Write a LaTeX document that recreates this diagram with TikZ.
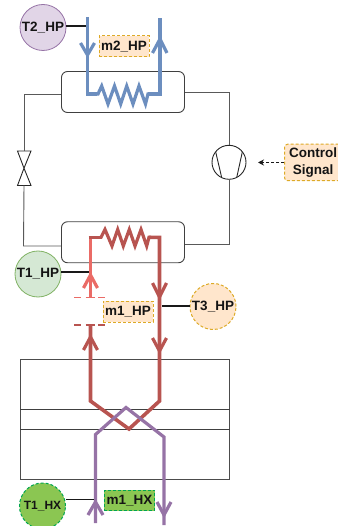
\documentclass[tikz,border=0pt]{standalone}
\usepackage{fontspec}
\setmainfont{Liberation Sans}
\usetikzlibrary{arrows.meta}
\definecolor{blueL}{HTML}{6C8EBF}
\definecolor{redD}{HTML}{B85450}
\definecolor{redL}{HTML}{EA6B66}
\definecolor{purp}{HTML}{9673A6}
\definecolor{orgF}{HTML}{FFE6CC}
\definecolor{orgD}{HTML}{D79B00}
\definecolor{grnF}{HTML}{D5E8D4}
\definecolor{grnD}{HTML}{82B366}
\definecolor{lime}{HTML}{8BC652}
\definecolor{limeD}{HTML}{00A650}
\definecolor{lilac}{HTML}{E1D5E7}
\tikzset{
 x=1pt,y=-1pt,
 lab/.style={font=\bfseries\fontsize{13.5}{17}\selectfont,text=black!92,inner sep=0pt,align=center},
 sensor/.style={circle,minimum size=46pt,inner sep=0pt,lab},
 tag/.style={rectangle,draw=orgD!85,fill=orgF,densely dashed,line width=1pt,inner sep=0pt,lab},
 wire/.style={draw=black!65,line width=0.9pt},
 tap/.style={draw=black!90,line width=1.2pt},
 pipe/.style={line width=3.6pt,line join=miter},
 zig/.style={line width=3.2pt,line join=miter},
 hx/.style={rectangle,rounded corners=6pt,draw=black!75,line width=0.9pt,minimum width=123pt,minimum height=41pt,inner sep=0pt},
 chev/.style={line width=3.2pt,line join=miter,line cap=butt},
 gap/.style={line width=1.8pt,dash pattern=on 6.7pt off 5pt on 9.3pt off 3.3pt on 6.7pt off 5pt}
}
\begin{document}
\begin{tikzpicture}
\useasboundingbox (0,0) rectangle (337,526);
% plate exchanger
\node[draw=black!70,line width=0.9pt,minimum width=209.5pt,minimum height=119.5pt,inner sep=0pt] (plate) at (124.75,419.25) {};
\coordinate (pl1) at (20,409); \coordinate (pr1) at (229.5,409);
\coordinate (pl2) at (20,429.5); \coordinate (pr2) at (229.5,429.5);
\draw[draw=black!75,line width=1pt] (pl1)--(pr1) (pl2)--(pr2);
% heat exchangers
\node[hx] (top) at (123,92) {};
\node[hx] (bot) at (123,242.25) {};
% compressor and valve
\node[circle,draw=black!85,line width=0.9pt,minimum size=34pt,inner sep=0pt] (comp) at (229,162.3) {};
\draw[black!85,line width=0.9pt] (215.7,152) -- (221.7,177.6) (242.3,152) -- (236.7,177.6);
\coordinate (vt) at (24,151); \coordinate (vb) at (24,185.5); \coordinate (vm) at (24,168.2);
\draw[black!85,line width=0.9pt] (vm) -- (17.5,151) -- (31,151) -- cycle (vm) -- (17.5,185.5) -- (31,185.5) -- cycle;
% refrigerant wires
\draw[wire] (top.west |- 0,94) -- (24,94) -- (vt);
\draw[wire] (top.east |- 0,92) -- (229,92) -- (comp.north);
\draw[wire] (vb) -- (23.5,246) -- (bot.west |- 0,246);
\draw[wire] (comp.south) -- (229,244) -- (bot.east |- 0,244);
% blue pipe
\coordinate (b1) at (87.5,17); \coordinate (b2) at (160,18);
\draw[pipe,blueL] (b1) -- (87.5,94) -- (97,94);
\draw[pipe,blueL] (148,94) -- (160,94) -- (b2);
\draw[zig,blueL] (96,94) -- (98,94) -- (101.7,86) -- (108,104) -- (114.5,86) -- (120.7,104) -- (126.7,86) -- (133,104) -- (139,86) -- (145.5,104) -- (148,94) -- (150,94);
\draw[chev,blueL] (80.5,43) -- (87.5,55) -- (94.5,43);
\draw[chev,blueL] (152.5,53) -- (160,39) -- (167,53);
% red pipes
\coordinate (r1) at (90.5,297); \coordinate (r2) at (90.5,325);
\draw[pipe,redL] (r1) -- (90.5,238);
\draw[pipe,redD] (88.7,237.3) -- (101,237.3);
\draw[zig,redD] (100,237.3) -- (101,237.3) -- (105,229.5) -- (112,246) -- (117.7,229.5) -- (123.3,246) -- (129.3,229.5) -- (135,246) -- (141,229.5) -- (146.7,246) -- (149,237.3) -- (151,237.3);
\draw[pipe,redD] (149,237.3) -- (159.5,237.3) -- (159.5,401) -- (129,429) -- (90.5,401) -- (r2);
\draw[chev,redL] (83.5,288) -- (90.5,275) -- (97.5,288);
\draw[chev,redD] (83.5,350) -- (90.5,337) -- (97.5,350);
\draw[chev,redD] (152.5,283) -- (159.5,297) -- (166.5,283);
\draw[chev,redD] (152.5,338) -- (159.5,351) -- (166.5,338);
\draw[redL,gap] (74,297.5) -- (105,297.5);
\draw[redD,gap] (74,325) -- (105,325);
% purple pipe
\draw[pipe,purp,line width=3.2pt] (95.5,523) -- (95.5,434.5) -- (126,407.5) -- (164,437) -- (164,525);
\draw[chev,purp] (88,515) -- (95.5,502) -- (103,515);
\draw[chev,purp] (157,502) -- (164,515) -- (171,502);
% sensors
\node[sensor,draw=purp,fill=lilac,line width=0.8pt] (t2) at (43,27.5) {T2\_HP};
\node[sensor,draw=grnD,fill=grnF,line width=0.8pt] (t1) at (38,274) {T1\_HP};
\node[sensor,draw=orgD!85,fill=orgF,densely dashed,line width=1pt] (t3) at (213,306.5) {T3\_HP};
\node[sensor,draw=limeD,fill=lime,densely dashed,line width=1pt,font=\bfseries\fontsize{12}{14}\selectfont] (t1x) at (42.5,506) {T1\_HX};
\coordinate (c2) at (86,26); \coordinate (c1) at (89,272); \coordinate (c3) at (161.5,306); \coordinate (c1x) at (94,499.5);
\draw[tap] (t2.east |- c2) -- (c2);
\draw[tap] (t1.east |- c1) -- (c1);
\draw[tap] (t3.west |- c3) -- (c3);
\draw[tap] (66,499.5) -- (c1x);
% tags
\node[tag,minimum width=50pt,minimum height=21pt] (m2) at (124,46.5) {m2\_HP};
\node[tag,minimum width=50pt,minimum height=21pt] (m1) at (128,311.5) {m1\_HP};
\node[tag,draw=limeD,fill=lime,minimum width=50.5pt,minimum height=20.5pt] (m1x) at (129.5,500.5) {m1\_HX};
\node[tag,minimum width=57pt,minimum height=36.5pt,rounded corners=3pt,text width=57pt] (ctl) at (313,162.5) {Control\\Signal};
\draw[black!90,line width=0.9pt,densely dashed,-{Stealth[length=6pt,width=6pt]}] (ctl.west) -- (258,162.5);
\end{tikzpicture}
\end{document}
